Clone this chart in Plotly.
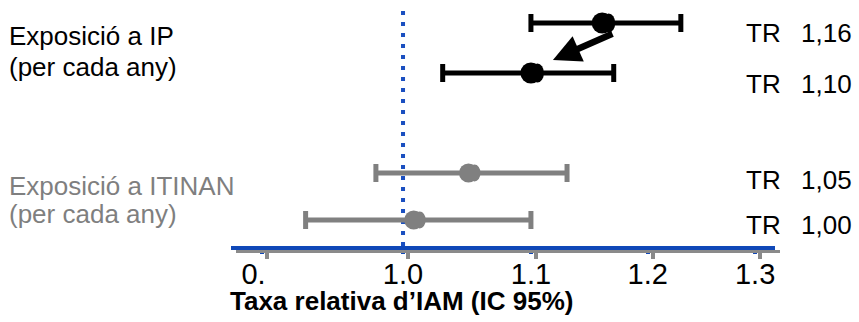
import numpy as np
import plotly.graph_objects as go

# ---------------- data ----------------
groups = ["Exposició a IP", "Exposició a ITINAN"]
group_sub = ["(per cada any)", "(per cada any)"]
tr = [1.16, 1.10, 1.05, 1.008]
ci_low = [1.10, 1.03, 0.98, 0.93]
ci_high = [1.23, 1.17, 1.13, 1.10]
tr_text = ["1,16", "1,10", "1,05", "1,00"]
tick_vals = [0.9, 1.0, 1.1, 1.2, 1.3]
tick_text = ["0.\u2007", "1.0", "1.1", "1.2", "1.3"]
ref_value = 1.0
x_title = "Taxa relativa d\u2019IAM (IC 95%)"

# ---------------- layout / style ----------------
W, H = 859, 322
row_y = [0, 1, 3, 3.94]          # row positions (1 unit = 50 px)
row_color = ["#000000", "#000000", "#808080", "#808080"]
marker_size = [21, 21, 19, 19]
text_color = ["#000000", "#7f7f7f"]
blue = "#1048b8"
dot_blue = "#1a4fc0"
gray = "#8a8a8a"
FONT = "Liberation Sans, Arial, sans-serif"

x_px = (231, 775)
axis_y_px = 246
x_range = [np.log10(0.8797), np.log10(1.3194)]

fig = go.Figure()

# error bars
for i in range(len(tr)):
    fig.add_trace(go.Scatter(
        x=[tr[i]], y=[row_y[i]], mode="markers",
        marker=dict(size=marker_size[i], color=row_color[i], line=dict(width=0)),
        error_x=dict(type="data", symmetric=False,
                     array=[ci_high[i] - tr[i]], arrayminus=[tr[i] - ci_low[i]],
                     color=row_color[i], thickness=5, width=9),
        showlegend=False, hoverinfo="skip"))
    # ellipse marker
    ew, eh = (13, 9.5) if i < 2 else (12, 8.5)
    fig.add_shape(type="circle", xref="x", yref="y",
                  xsizemode="pixel", ysizemode="pixel",
                  xanchor=tr[i], yanchor=row_y[i],
                  x0=-ew, x1=ew, y0=-eh, y1=eh,
                  fillcolor=row_color[i], line=dict(width=0), layer="above")

# dummy trace for the gray duplicate axis
fig.add_trace(go.Scatter(x=[], y=[], xaxis="x2", yaxis="y", showlegend=False))

# reference dotted line
fig.add_shape(type="line", xref="x", yref="y domain", x0=ref_value, x1=ref_value,
              y0=0, y1=(axis_y_px - 10) / axis_y_px,
              line=dict(color=dot_blue, width=4, dash="4px,7px"), layer="below")

annotations = []
# left group labels
for g in range(2):
    r0, r1 = 2 * g, 2 * g + 1
    annotations.append(dict(text=groups[g], xref="paper", yref="y", x=7 / W, y=row_y[r0],
                            xanchor="left", yanchor="middle", yshift=-13, showarrow=False,
                            font=dict(family=FONT, size=26, color=text_color[g])))
    annotations.append(dict(text=group_sub[g], xref="paper", yref="y", x=7 / W, y=row_y[r1],
                            xanchor="left", yanchor="middle", yshift=6, showarrow=False,
                            font=dict(family=FONT, size=26, color=text_color[g])))
# right TR labels
tr_shift = [-10, -11, -7, -5]
for i in range(len(tr)):
    annotations.append(dict(text="TR", xref="paper", yref="y", x=744 / W, y=row_y[i],
                            xanchor="left", yanchor="middle", yshift=tr_shift[i], showarrow=False,
                            font=dict(family=FONT, size=26, color="#000000")))
    annotations.append(dict(text=tr_text[i], xref="paper", yref="y", x=854 / W, y=row_y[i],
                            xanchor="right", yanchor="middle", yshift=tr_shift[i], showarrow=False,
                            font=dict(family=FONT, size=26, color="#000000")))
# arrow between the two IP estimates
annotations.append(dict(text="", x=np.log10(tr[1]), y=row_y[1], xref="x", yref="y",
                        xshift=22, yshift=13, showarrow=True, axref="pixel", ayref="pixel",
                        ax=61, ay=-27, arrowhead=2, arrowsize=0.85, arrowwidth=6.5,
                        arrowcolor="#000000", standoff=0))
# x title
annotations.append(dict(text="<b>" + x_title + "</b>", xref="paper", yref="paper",
                        x=401 / W, y=1 - 300.5 / H, xanchor="center", yanchor="middle",
                        showarrow=False, font=dict(family=FONT, size=26, color="#000000")))

fig.update_layout(
    width=W, height=H, template="none",
    margin=dict(l=0, r=0, t=0, b=0, autoexpand=False),
    paper_bgcolor="white", plot_bgcolor="rgba(0,0,0,0)",
    font=dict(family=FONT, color="#000000"),
    xaxis=dict(type="log", range=x_range, domain=[x_px[0] / W, x_px[1] / W],
               anchor="y", showgrid=False, zeroline=False, automargin=False,
               showline=True, linecolor=blue, linewidth=4,
               ticks="outside", ticklen=4, tickwidth=4, tickcolor=blue,
               tickvals=tick_vals, ticktext=tick_text, ticklabelstandoff=-5,
               tickfont=dict(family=FONT, size=29, color="#000000")),
    xaxis2=dict(type="log", range=x_range,
                domain=[(x_px[0] + 5) / W, (x_px[1] + 5) / W],
                anchor="free", position=1 - 250.5 / H,
                showgrid=False, zeroline=False, automargin=False,
                showline=True, linecolor=gray, linewidth=3,
                ticks="outside", ticklen=6, tickwidth=4, tickcolor=gray,
                tickvals=tick_vals, showticklabels=False),
    yaxis=dict(range=[4.46, -0.46], domain=[1 - axis_y_px / H, 1], visible=False,
               showgrid=False, zeroline=False, automargin=False),
    annotations=annotations,
)

fig.write_html("out.html", config={"displayModeBar": False},
               post_script="document.body.style.margin='0';document.body.style.overflow='hidden';")
